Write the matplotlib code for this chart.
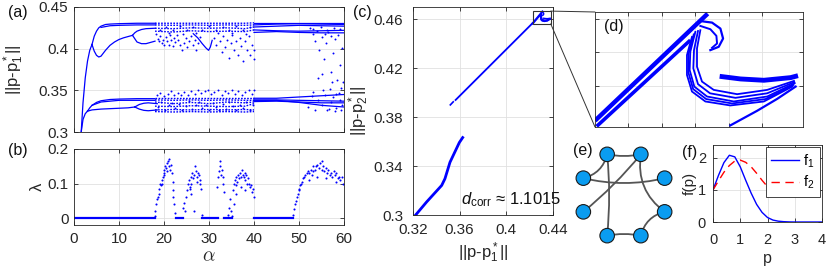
import matplotlib
matplotlib.use('Agg')
import numpy as np
import matplotlib.pyplot as plt
from matplotlib.patches import Rectangle, FancyArrowPatch, Circle, ConnectionPatch

plt.rcParams['font.family'] = ['Liberation Sans', 'DejaVu Sans']
plt.rcParams['mathtext.fontset'] = 'custom'
plt.rcParams['mathtext.rm'] = 'Liberation Sans'
plt.rcParams['mathtext.it'] = 'Liberation Sans:italic'
plt.rcParams['mathtext.bf'] = 'Liberation Sans:bold'

# ---------------- data: panel (a) bifurcation branches ----------------
u_trunk_a = [1.6, 2.0, 2.5, 3.0, 3.5, 4.0]
u_trunk_v = [0.300, 0.335, 0.365, 0.385, 0.398, 0.405]
u_top_a = [4.0, 4.5, 5.0, 5.5, 6, 7, 8, 10, 14, 18]
u_top_v = [0.405, 0.415, 0.421, 0.425, 0.427, 0.429, 0.4295, 0.430, 0.4305, 0.4305]
u_top2_a = [6, 8, 10, 14, 18]
u_top2_v = [0.4255, 0.4275, 0.428, 0.4285, 0.4285]
u_low_a = [4.0, 4.5, 5.0, 5.5, 6.0, 7, 8, 9, 10, 11, 12, 13]
u_low_v = [0.405, 0.397, 0.392, 0.390, 0.391, 0.398, 0.404, 0.408, 0.411, 0.413, 0.4145, 0.416]
u_split_hi_a = [13, 13.5, 14, 15, 16, 18]
u_split_hi_v = [0.416, 0.419, 0.421, 0.423, 0.424, 0.4245]
u_split_lo_a = [13, 13.5, 14, 15, 16, 17, 18]
u_split_lo_v = [0.416, 0.412, 0.408, 0.406, 0.406, 0.4075, 0.409]
vee_a = [26.5, 27.5, 28.5, 29.3, 29.9, 30.3, 30.7]
vee_v = [0.418, 0.413, 0.406, 0.401, 0.398, 0.402, 0.410]

band_a = [18, 22, 26, 30, 34, 38, 40]
uc1 = [0.4305, 0.4305, 0.4305, 0.4305, 0.4305, 0.4305, 0.431]
uc2 = [0.4285, 0.428, 0.4285, 0.428, 0.4285, 0.428, 0.4285]
uc3 = [0.4245, 0.424, 0.425, 0.4245, 0.425, 0.424, 0.426]
uc4 = [0.421, 0.420, 0.4215, 0.4205, 0.421, 0.4205, 0.4225]
lc1 = [0.3405, 0.3405, 0.3405, 0.3405, 0.3405, 0.3405, 0.3405]
lc2 = [0.3385, 0.338, 0.3385, 0.338, 0.3385, 0.338, 0.338]
lc3 = [0.336, 0.334, 0.3355, 0.334, 0.336, 0.335, 0.336]
lc4 = [0.331, 0.3305, 0.3315, 0.331, 0.3305, 0.331, 0.334]
lc5 = [0.3265, 0.327, 0.3265, 0.327, 0.3265, 0.327, 0.3265]
lc6 = [0.3245, 0.324, 0.3245, 0.324, 0.3245, 0.324, 0.3245]

per_a = [40, 45, 50, 55, 60]
ul1 = [0.431, 0.431, 0.431, 0.431, 0.431]
ul2 = [0.4285, 0.4295, 0.430, 0.4295, 0.429]
ul3 = [0.426, 0.427, 0.428, 0.4275, 0.427]
ul4 = [0.4225, 0.4215, 0.421, 0.4215, 0.422]
ul5 = [0.4195, 0.4205, 0.4195, 0.419, 0.419]
ll1 = [0.3405, 0.3405, 0.342, 0.3435, 0.345]
ll2 = [0.3385, 0.3385, 0.338, 0.3375, 0.337]
ll3 = [0.338, 0.338, 0.3355, 0.332, 0.330]
ll4 = [0.3365, 0.337, 0.336, 0.335, 0.335]

l_trunk_a = [1.6, 2.0, 2.5, 3.0]
l_trunk_v = [0.300, 0.315, 0.322, 0.325]
l_top_a = [3.0, 3.5, 4, 5, 6, 8, 10, 14, 18]
l_top_v = [0.325, 0.329, 0.332, 0.3355, 0.3375, 0.339, 0.3395, 0.340, 0.340]
l_top2_a = [4, 6, 10, 18]
l_top2_v = [0.332, 0.336, 0.338, 0.338]
l_low_a = [3.0, 4, 5, 6, 8, 10, 12, 13.5]
l_low_v = [0.325, 0.3265, 0.327, 0.3275, 0.328, 0.3285, 0.329, 0.330]
l_bub_a = [13.5, 14.5, 15.5, 16.5, 17.5, 18.5]
l_bub_hi = [0.330, 0.333, 0.3345, 0.335, 0.3345, 0.334]
l_bub_lo = [0.330, 0.3275, 0.326, 0.3255, 0.326, 0.3265]

up_cloud = [(18.3, .418), (18.6, .412), (18.9, .409), (19.2, .415), (19.5, .407), (19.8, .411),
            (20.1, .404), (20.4, .414), (20.7, .409), (21.0, .405), (21.3, .417), (21.6, .411),
            (21.9, .403), (22.2, .413), (22.5, .408), (22.8, .416), (23.2, .410), (23.6, .404),
            (24.0, .399), (24.4, .407), (24.8, .413), (25.2, .402), (25.6, .409), (26.0, .415),
            (26.4, .404), (26.8, .411), (27.2, .399), (27.6, .407), (28.0, .414), (31.2, .413),
            (31.6, .405), (32.0, .419), (32.4, .409), (32.8, .396), (33.2, .415), (33.6, .402),
            (34.0, .411), (34.4, .389), (34.8, .407), (35.2, .417), (35.6, .399), (36.0, .409),
            (36.4, .393), (36.8, .413), (37.2, .403), (37.6, .385), (38.0, .409), (38.4, .398),
            (38.8, .415), (39.2, .392), (39.6, .405), (39.9, .388), (39.9, .398), (19.0, .423),
            (20.5, .426), (22.0, .422), (23.5, .427), (25.0, .423), (26.5, .426), (28.5, .422),
            (30.0, .427), (31.5, .423), (33.0, .426), (34.5, .422), (36.0, .427), (37.5, .423),
            (39.0, .426), (21.2, .419), (24.2, .418), (27.0, .419), (35.0, .419), (38.2, .418)]
low_cloud = [(18.5, .344), (19.2, .347), (20.0, .343), (20.8, .346), (21.5, .349), (22.3, .345),
             (23.0, .347), (23.8, .344), (24.5, .348), (25.3, .345), (26.0, .349), (26.8, .346),
             (27.5, .350), (28.3, .347), (29.0, .349), (29.8, .350), (30.5, .346), (31.2, .348),
             (32.0, .350), (32.8, .345), (33.5, .349), (34.3, .347), (35.0, .350), (35.8, .346),
             (36.5, .349), (37.3, .345), (38.0, .348), (38.8, .350), (39.5, .346), (39.9, .351),
             (18.7, .330), (19.4, .336), (20.2, .327), (21.0, .332), (21.7, .335), (22.5, .329),
             (23.3, .334), (24.0, .326), (24.8, .331), (25.5, .337), (26.3, .328), (27.0, .333),
             (27.8, .336), (28.5, .329), (29.3, .332), (30.0, .327), (30.8, .335), (31.5, .330),
             (32.3, .326), (33.0, .334), (33.8, .328), (34.5, .336), (35.3, .331), (36.0, .326),
             (36.8, .333), (37.5, .329), (38.3, .336), (39.0, .327), (39.7, .332)]
up_cloud2 = [(52.5, .425), (53.0, .418), (53.5, .409), (54.0, .421), (54.5, .399), (55.0, .414),
             (55.5, .388), (56.0, .407), (56.5, .420), (57.0, .372), (57.5, .395), (58.0, .412),
             (58.5, .362), (59.0, .380), (59.5, .401), (59.8, .360), (55.2, .370), (56.8, .352),
             (58.2, .346), (59.3, .353), (57.3, .360), (54.2, .365), (53.2, .424), (54.8, .426),
             (56.2, .423), (57.8, .425), (59.0, .424), (58.7, .417), (57.0, .415), (55.8, .418)]
low_cloud2 = [(52.0, .330), (52.8, .343), (53.5, .327), (54.2, .338), (55.0, .332), (55.7, .345),
              (56.3, .326), (57.0, .336), (57.6, .342), (58.3, .329), (59.0, .339), (59.6, .333),
              (53.2, .348), (55.3, .350), (58.8, .347), (56.7, .328), (58.0, .325), (59.4, .327)]

# ---------------- data: panel (b) Lyapunov exponent ----------------
lam_zero = [(0, 18), (22.6, 24.2), (28.5, 32), (33.4, 35.2), (40, 48.7)]
lam_points = [(17.9, .005), (18.1, .02), (18.3, .04), (18.5, .055), (18.7, .06), (18.9, .085), (19.1, .10),
              (19.3, .095), (19.5, .11), (19.7, .12), (19.9, .13), (20.1, .14), (20.3, .15), (20.5, .145),
              (20.7, .16), (20.9, .165), (21.1, .15), (21.3, .14), (21.5, .155), (21.7, .13), (21.9, .105),
              (22.1, .08), (22.3, .04), (22.5, .015), (20.0, .125), (20.6, .135), (21.0, .17), (19.6, .10),
              (18.8, .07), (22.0, .06),
              (24.3, .03), (24.5, .045), (24.7, .02), (24.9, .06), (25.1, .08), (25.3, .10), (25.5, .11),
              (25.7, .09), (25.9, .12), (26.1, .10), (26.3, .13), (26.5, .115), (26.7, .125), (26.9, .15),
              (27.1, .135), (27.3, .12), (27.5, .13), (27.7, .125), (27.9, .11), (28.1, .10), (28.3, .085),
              (26.0, .07), (25.8, .085), (27.4, .105), (28.4, .01), (26.6, .02),
              (32.0, .12), (32.2, .135), (32.4, .165), (32.5, .15), (32.6, .125), (32.8, .14), (33.0, .12),
              (33.2, .10), (33.3, .075), (31.8, .09),
              (34.2, .01), (34.5, .03), (34.7, .055), (34.9, .02), (35.1, .005),
              (35.3, .08), (35.5, .10), (35.7, .11), (35.9, .095), (36.1, .12), (36.3, .105), (36.5, .125),
              (36.7, .115), (36.9, .13), (37.1, .12), (37.3, .14), (37.5, .125), (37.7, .12), (37.9, .13),
              (38.1, .11), (38.3, .125), (38.5, .10), (38.7, .115), (38.9, .10), (39.1, .09), (39.3, .095),
              (39.5, .075), (39.7, .085), (39.9, .06), (36.0, .07), (37.0, .09), (38.0, .08), (35.6, .04),
              (48.7, .01), (48.9, .025), (49.1, .04), (49.3, .05), (49.5, .06), (49.7, .07), (49.9, .08),
              (50.1, .085), (50.3, .095), (50.5, .10), (50.7, .105), (50.9, .115), (51.1, .12), (51.4, .125),
              (51.7, .13), (52.0, .135), (52.3, .13), (52.6, .14), (52.9, .125), (53.2, .135), (53.5, .14),
              (53.8, .15), (54.1, .155), (54.4, .145), (54.7, .16), (55.0, .14), (55.3, .15), (55.6, .135),
              (55.9, .145), (56.2, .13), (56.5, .14), (56.8, .125), (57.1, .13), (57.4, .12), (57.7, .135),
              (58.0, .125), (58.3, .13), (58.6, .115), (58.9, .12), (59.2, .11), (59.5, .12), (59.8, .10),
              (52.2, .11), (54.0, .12), (56.0, .115), (58.2, .105), (55.2, .165), (53.0, .15)]

# ---------------- data: panel (c) / (d) attractor ----------------
c_low_x = [0.3205, 0.3317, 0.3446, 0.3474, 0.3517, 0.3597, 0.3626]
c_low_y = [0.298, 0.3107, 0.3242, 0.3297, 0.3431, 0.3592, 0.3633]
c_dash_x = [0.3520, 0.3545]
c_dash_y = [0.3900, 0.3925]
c_up_x = [0.3565, 0.4225]
c_up_y = [0.3940, 0.4568]

band_A_x = [0.4225, 0.430925]
band_A_y = [0.45682, 0.46651]
band_B_x = [0.422625, 0.429625]
band_B_y = [0.45631, 0.46411]
s1_x = [0.430375, 0.430125, 0.430125, 0.4305, 0.431375, 0.433125, 0.435375, 0.437375]
s1_y = [0.46501, 0.46336, 0.46171, 0.46036, 0.45961, 0.45922, 0.45961, 0.46042]
s4_x = [0.4302, 0.4299, 0.42985, 0.4302, 0.4311, 0.4330, 0.43537, 0.4374]
s4_y = [0.46494, 0.4632, 0.46156, 0.46013, 0.4593, 0.45889, 0.4593, 0.46031]
s2_x = [0.43, 0.429625, 0.429575, 0.429925, 0.430875, 0.432875, 0.435375, 0.437425]
s2_y = [0.46486, 0.46306, 0.46141, 0.45991, 0.45901, 0.45856, 0.45901, 0.46021]
s5_x = [0.42988, 0.4295, 0.42948, 0.42984, 0.43081, 0.43275, 0.43525, 0.43734]
s5_y = [0.46463, 0.4629, 0.46118, 0.45968, 0.45878, 0.45838, 0.45878, 0.46006]
s3_x = [0.42975, 0.429375, 0.429375, 0.42975, 0.43075, 0.432625, 0.435125, 0.43725]
s3_y = [0.46441, 0.46276, 0.46096, 0.45946, 0.45856, 0.4582, 0.45856, 0.45991]
tongue_x = [0.432, 0.433375, 0.435125, 0.437125, 0.4375]
tongue_y = [0.46081, 0.4606, 0.46048, 0.46072, 0.46084]
tail_x = [0.432625, 0.434625, 0.436125, 0.4375]
tail_y = [0.4564, 0.45772, 0.4588, 0.45991]
hook1_x = [0.4305, 0.43125, 0.431875, 0.432075, 0.43175, 0.431125]
hook1_y = [0.46582, 0.4657, 0.46516, 0.46426, 0.46351, 0.46321]
hook2_x = [0.430375, 0.431125, 0.431575, 0.431625, 0.43125]
hook2_y = [0.4654, 0.4651, 0.4645, 0.46381, 0.46342]

# ---------------- data: panel (e) network ----------------
node_angles = [22.5, 67.5, 112.5, 157.5, 202.5, 247.5, 292.5, 337.5]
edges = [(2, 1), (3, 2), (2, 5), (1, 4), (1, 7), (3, 0), (7, 6), (5, 6)]
edge_rad = [0.1, 0.3, -0.05, -0.05, 0.3, 0.12, 0.3, -0.1]

# ---------------- data: panel (f) ----------------
p_vals = [0, .2, .4, .6, .8, 1.0, 1.2, 1.4, 1.6, 1.8, 2.0, 2.2, 2.4, 2.6, 2.8, 3.0, 3.2, 3.4, 3.6, 3.8, 4.0]
f1_vals = [1.0, 1.45, 1.85, 2.08, 2.03, 1.72, 1.30, 0.90, 0.55, 0.30, 0.14, 0.06, 0.025, 0.01, 0.003, 0, 0, 0, 0, 0, 0]
f2_vals = [1.0, 1.28, 1.55, 1.76, 1.90, 1.93, 1.86, 1.72, 1.52, 1.30, 1.10, 0.96, 0.87, 0.82, 0.80, 0.80, 0.81, 0.83, 0.86, 0.88, 0.90]

# ---------------- figure ----------------
W, H = 830, 268
fig = plt.figure(figsize=(W / 100, H / 100), dpi=100)


def rect(l, t, r, b):
    return [l / W, 1 - b / H, (r - l) / W, (b - t) / H]


AXC = '#262626'
BLUE = '#0000ff'


def style(ax, fs=11, xpad=5, ypad=4):
    for s in ax.spines.values():
        s.set_color(AXC)
        s.set_linewidth(0.6)
    ax.tick_params(direction='in', length=3, width=0.6, colors=AXC, labelsize=fs,
                   top=True, right=True, labelcolor=AXC)
    ax.tick_params(axis='x', pad=xpad)
    ax.tick_params(axis='y', pad=ypad)
    ax.grid(True, color='#e0e0e0', lw=0.6)
    ax.set_axisbelow(True)


def ftext(x, y, s, **kw):
    fig.text(x / W, 1 - y / H, s, ha='center', va='center', **kw)


# (a)
axa = fig.add_axes(rect(74, 7, 344, 132))
style(axa)
lw_b = 0.9
for a_, v_ in [(u_trunk_a, u_trunk_v), (u_top_a, u_top_v), (u_top2_a, u_top2_v), (u_low_a, u_low_v),
               (u_split_hi_a, u_split_hi_v), (u_split_lo_a, u_split_lo_v), (vee_a, vee_v),
               (l_trunk_a, l_trunk_v), (l_top_a, l_top_v), (l_top2_a, l_top2_v), (l_low_a, l_low_v),
               (l_bub_a, l_bub_hi), (l_bub_a, l_bub_lo)]:
    axa.plot(a_, v_, color=BLUE, lw=lw_b)
for v_ in [uc1, uc2, uc3, uc4, lc1, lc2, lc3, lc4, lc5, lc6]:
    axa.plot(band_a, v_, color=BLUE, lw=1.0, ls=(0, (1.2, 1.0)))
for v_ in [ul1, ul2, ul3, ul4, ul5, ll1, ll2, ll3, ll4]:
    axa.plot(per_a, v_, color=BLUE, lw=0.9)
for cloud in [up_cloud, low_cloud, up_cloud2, low_cloud2]:
    xs, ys = zip(*cloud)
    axa.plot(xs, ys, 'o', color=BLUE, ms=1.4, mew=0)
axa.set_xlim(0, 60)
axa.set_ylim(0.3, 0.45)
axa.set_xticks([0, 10, 20, 30, 40, 50, 60])
axa.set_xticklabels([])
axa.set_yticks([0.3, 0.35, 0.4, 0.45])
axa.set_yticklabels(['0.3', '0.35', '0.4', '0.45'])
axa.set_ylabel(r'||p-p$_1^*$||', fontsize=12, color=AXC, labelpad=9)

# (b)
axb = fig.add_axes(rect(74, 149, 344, 225))
style(axb)
for a0, a1 in lam_zero:
    axb.plot([a0, a1], [0, 0], color=BLUE, lw=1.6)
xs, ys = zip(*lam_points)
axb.plot(xs, ys, 'o', color=BLUE, ms=1.5, mew=0)
axb.set_xlim(0, 60)
axb.set_ylim(-0.02, 0.2)
axb.set_xticks([0, 10, 20, 30, 40, 50, 60])
axb.set_yticks([0, 0.1, 0.2])
axb.set_yticklabels(['0', '0.1', '0.2'])
axb.set_ylabel('λ', fontsize=12, color=AXC, labelpad=2)
axb.set_xlabel(r'$\alpha$', fontsize=14, color=AXC, math_fontfamily='cm', labelpad=2)

# (d) first (limits used by (c))
axd = fig.add_axes(rect(595, 12, 803, 127))
style(axd)
axd.plot(band_A_x, band_A_y, color=BLUE, lw=3.2, solid_capstyle='butt')
axd.plot(band_B_x, band_B_y, color=BLUE, lw=2.6, solid_capstyle='butt')
for xs_, ys_ in [(s1_x, s1_y), (s4_x, s4_y), (s2_x, s2_y), (s5_x, s5_y), (s3_x, s3_y)]:
    axd.plot(xs_, ys_, color=BLUE, lw=1.3)
axd.plot(tongue_x, tongue_y, color=BLUE, lw=3.5)
axd.plot(tail_x, tail_y, color=BLUE, lw=1.6)
axd.plot(hook1_x, hook1_y, color=BLUE, lw=1.6)
axd.plot(hook2_x, hook2_y, color=BLUE, lw=1.4)
axd.set_xlim(0.4225, 0.43805)
axd.set_ylim(0.45625, 0.46666)
axd.set_xticks([0.425, 0.4275, 0.43, 0.4325, 0.435])
axd.set_yticks([0.46, 0.463, 0.466])
axd.set_xticklabels([])
axd.set_yticklabels([])

# (c)
axc = fig.add_axes(rect(413, 7, 553, 215))
style(axc, xpad=6, ypad=7)
axc.plot(c_low_x, c_low_y, color=BLUE, lw=2.0)
axc.plot(c_dash_x, c_dash_y, color=BLUE, lw=1.2)
axc.plot(c_up_x, c_up_y, color=BLUE, lw=1.3)
axc.plot(band_A_x, band_A_y, color=BLUE, lw=1.2)
axc.plot(band_B_x, band_B_y, color=BLUE, lw=1.2)
for xs_, ys_ in [(s1_x, s1_y), (s2_x, s2_y), (s3_x, s3_y), (tongue_x, tongue_y), (hook1_x, hook1_y)]:
    axc.plot(xs_, ys_, color=BLUE, lw=1.0)
axc.set_xlim(0.32, 0.44)
axc.set_ylim(0.3, 0.47)
axc.set_xticks([0.32, 0.36, 0.4, 0.44])
axc.set_xticklabels(['0.32', '0.36', '0.4', '0.44'])
axc.set_yticks([0.3, 0.34, 0.38, 0.42, 0.46])
axc.set_yticklabels(['0.3', '0.34', '0.38', '0.42', '0.46'])
axc.set_ylabel(r'||p-p$_2^*$||', fontsize=12, color=AXC, labelpad=2)
axc.set_xlabel(r'||p-p$_1^*$||', fontsize=12, color=AXC, labelpad=2)
axc.text(0.7, 0.075, r'$d_{\mathrm{corr}}$ ≈ 1.1015', transform=axc.transAxes,
         ha='center', va='center', fontsize=12, color='#111111')
dx0, dx1 = axd.get_xlim()
dy0, dy1 = axd.get_ylim()
axc.add_patch(Rectangle((dx0, dy0), dx1 - dx0, dy1 - dy0, fill=False, ec='#333333', lw=0.8, zorder=5))
fig.add_artist(ConnectionPatch(xyA=(dx1, dy1), coordsA=axc.transData, xyB=(0, 1), coordsB=axd.transAxes,
                               color='#333333', lw=0.7))
fig.add_artist(ConnectionPatch(xyA=(dx1, dy0), coordsA=axc.transData, xyB=(0, 0), coordsB=axd.transAxes,
                               color='#333333', lw=0.7))

# (e)
axe = fig.add_axes(rect(570, 141, 678, 249))
axe.set_xlim(-1.227, 1.227)
axe.set_ylim(-1.227, 1.227)
axe.axis('off')
pos = [(np.cos(np.deg2rad(t)), np.sin(np.deg2rad(t))) for t in node_angles]
for (i, j), r in zip(edges, edge_rad):
    axe.add_patch(FancyArrowPatch(pos[i], pos[j], arrowstyle='-', connectionstyle=f'arc3,rad={r}',
                                  color='#555555', lw=1.3, shrinkA=0, shrinkB=0, zorder=1))
for (x, y) in pos:
    axe.add_patch(Circle((x, y), 0.165, fc='#0a9cf0', ec='#1a1a1a', lw=0.8, zorder=3))

# (f)
axf = fig.add_axes(rect(713, 145, 822, 222))
style(axf, fs=10.5, xpad=8, ypad=5)
axf.plot(p_vals, f1_vals, color=BLUE, lw=1.0, label='f$_1$')
axf.plot(p_vals, f2_vals, color='#ff0000', lw=1.0, ls=(0, (6, 4)), label='f$_2$')
axf.set_xlim(0, 4)
axf.set_ylim(0, 2.4)
axf.set_xticks([0, 1, 2, 3, 4])
axf.set_yticks([0, 1, 2])
axf.set_xlabel('p', fontsize=11.5, color=AXC, labelpad=3)
axf.set_ylabel('f(p)', fontsize=11, color=AXC, labelpad=1)
leg = axf.legend(loc='upper right', fontsize=10.5, handlelength=1.9, handletextpad=0.3,
                 labelspacing=0.3, borderaxespad=0.15, fancybox=False, framealpha=1,
                 edgecolor=AXC, borderpad=0.35)
leg.get_frame().set_linewidth(0.6)

# panel labels
for (x, y, s) in [(18, 12, '(a)'), (18, 150, '(b)'), (362, 12, '(c)'), (614, 26, '(d)'),
                  (583, 151, '(e)'), (690, 153, '(f)')]:
    ftext(x, y, s, fontsize=11.5, color='#111111')

fig.savefig('out.png', dpi=100)
